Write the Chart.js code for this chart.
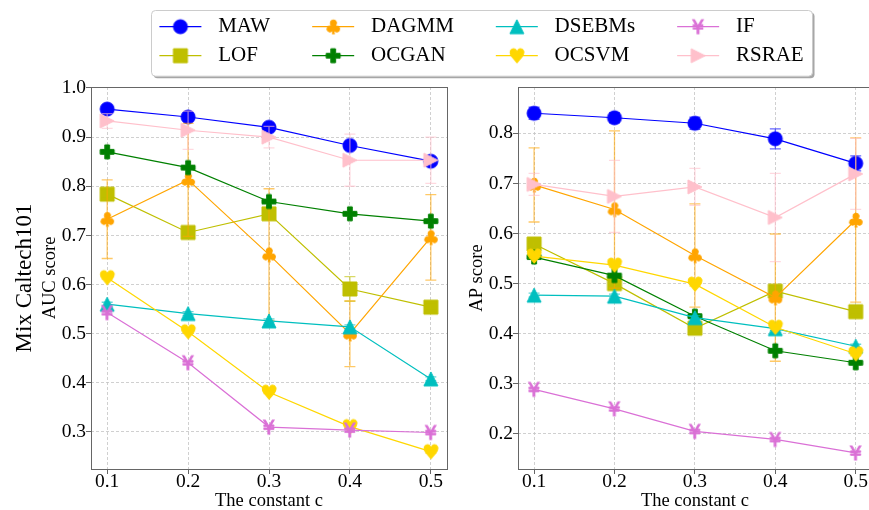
<!DOCTYPE html>
<html>
<head>
<meta charset="utf-8">
<title>Mix Caltech101 – AUC and AP vs. the constant c</title>
<script src="https://cdn.jsdelivr.net/npm/chart.js@4.4.1/dist/chart.umd.min.js"></script>
<style>
  html, body { margin: 0; padding: 0; background: #fff; overflow: hidden; }
  #wrap { position: relative; width: 869px; height: 510px; overflow: hidden; background: #fff; }
  #wrap canvas { position: absolute; left: 0; top: 0; }
</style>
</head>
<body>
<div id="wrap">
  <canvas id="aucChart" width="880" height="510"></canvas>
  <canvas id="apChart" width="880" height="510"></canvas>
</div>
<script>
// ---- data -------------------------------------------------------------
const C_VALUES = [0.1, 0.2, 0.3, 0.4, 0.5];
const C_TICKS = [0.1, 0.2, 0.3, 0.4, 0.5];
const AUC_TICKS = [0.3, 0.4, 0.5, 0.6, 0.7, 0.8, 0.9, 1.0];
const AP_TICKS = [0.2, 0.3, 0.4, 0.5, 0.6, 0.7, 0.8];
const METHODS = ['MAW', 'LOF', 'DAGMM', 'OCGAN', 'DSEBMs', 'OCSVM', 'IF', 'RSRAE'];

// AUC score (mean and error half-width)
const AUC_MAW    = [0.957, 0.941, 0.920, 0.883, 0.851];
const AUC_LOF    = [0.784, 0.706, 0.744, 0.591, 0.554];
const AUC_DAGMM  = [0.733, 0.813, 0.661, 0.500, 0.696];
const AUC_OCGAN  = [0.870, 0.838, 0.769, 0.744, 0.729];
const AUC_DSEBMS = [0.560, 0.541, 0.526, 0.514, 0.408];
const AUC_OCSVM  = [0.614, 0.504, 0.381, 0.311, 0.260];
const AUC_IF     = [0.543, 0.441, 0.310, 0.304, 0.299];
const AUC_RSRAE  = [0.933, 0.914, 0.900, 0.853, 0.853];

const AUC_MAW_ERR    = [0.003, 0.003, 0.003, 0.004, 0.004];
const AUC_LOF_ERR    = [0.008, 0.010, 0.010, 0.025, 0.006];
const AUC_DAGMM_ERR  = [0.080, 0.115, 0.134, 0.067, 0.087];
const AUC_OCGAN_ERR  = [0.004, 0.004, 0.004, 0.004, 0.004];
const AUC_DSEBMS_ERR = [0.004, 0.004, 0.004, 0.004, 0.004];
const AUC_OCSVM_ERR  = [0.003, 0.003, 0.003, 0.003, 0.003];
const AUC_IF_ERR     = [0.003, 0.003, 0.003, 0.003, 0.003];
const AUC_RSRAE_ERR  = [0.015, 0.039, 0.022, 0.053, 0.047];

// AP score (mean and error half-width)
const AP_MAW    = [0.840, 0.831, 0.820, 0.789, 0.740];
const AP_LOF    = [0.579, 0.500, 0.411, 0.485, 0.444];
const AP_DAGMM  = [0.697, 0.648, 0.556, 0.472, 0.627];
const AP_OCGAN  = [0.553, 0.516, 0.435, 0.366, 0.342];
const AP_DSEBMS = [0.477, 0.475, 0.432, 0.410, 0.375];
const AP_OCSVM  = [0.555, 0.537, 0.499, 0.413, 0.360];
const AP_IF     = [0.289, 0.250, 0.205, 0.189, 0.162];
const AP_RSRAE  = [0.698, 0.674, 0.693, 0.632, 0.719];

const AP_MAW_ERR    = [0.012, 0.010, 0.012, 0.020, 0.015];
const AP_LOF_ERR    = [0.005, 0.005, 0.005, 0.005, 0.005];
const AP_DAGMM_ERR  = [0.074, 0.157, 0.103, 0.127, 0.164];
const AP_OCGAN_ERR  = [0.004, 0.004, 0.004, 0.004, 0.004];
const AP_DSEBMS_ERR = [0.004, 0.004, 0.004, 0.004, 0.004];
const AP_OCSVM_ERR  = [0.004, 0.004, 0.004, 0.004, 0.004];
const AP_IF_ERR     = [0.003, 0.003, 0.003, 0.003, 0.003];
const AP_RSRAE_ERR  = [0.022, 0.072, 0.037, 0.088, 0.071];

const AUC_VALUES = [AUC_MAW, AUC_LOF, AUC_DAGMM, AUC_OCGAN, AUC_DSEBMS, AUC_OCSVM, AUC_IF, AUC_RSRAE];
const AUC_ERRORS = [AUC_MAW_ERR, AUC_LOF_ERR, AUC_DAGMM_ERR, AUC_OCGAN_ERR, AUC_DSEBMS_ERR, AUC_OCSVM_ERR, AUC_IF_ERR, AUC_RSRAE_ERR];
const AP_VALUES = [AP_MAW, AP_LOF, AP_DAGMM, AP_OCGAN, AP_DSEBMS, AP_OCSVM, AP_IF, AP_RSRAE];
const AP_ERRORS = [AP_MAW_ERR, AP_LOF_ERR, AP_DAGMM_ERR, AP_OCGAN_ERR, AP_DSEBMS_ERR, AP_OCSVM_ERR, AP_IF_ERR, AP_RSRAE_ERR];

// ---- styling ----------------------------------------------------------
const SERIF = "'Liberation Serif', 'Times New Roman', Times, serif";
const COLORS = {
  MAW: '#0000ff', LOF: '#bfbf00', DAGMM: '#ffa500', OCGAN: '#008000',
  DSEBMs: '#00bfbf', OCSVM: '#ffd700', IF: '#da70d6', RSRAE: '#ffc0cb'
};
const MARKER_KIND = {
  MAW: 'circle', LOF: 'square', DAGMM: '\u2663', OCGAN: 'plus',
  DSEBMs: 'triUp', OCSVM: '\u2665', IF: '\u00a5', RSRAE: 'triRight'
};
const MARKER_SIZE = 14;
const LINE_WIDTH = 1.2;
const GRID_COLOR = '#c4c4c4';
const SPINE_COLOR = '#666666';

function withAlpha(hex, a) {
  const n = parseInt(hex.slice(1), 16);
  return `rgba(${(n >> 16) & 255},${(n >> 8) & 255},${n & 255},${a})`;
}

// Marker sprites used as Chart.js point styles
function markerCanvas(kind, color) {
  const S = 20;
  const c = document.createElement('canvas');
  c.width = S; c.height = S;
  const g = c.getContext('2d');
  g.translate(S / 2, S / 2);
  g.fillStyle = color; g.strokeStyle = color; g.lineWidth = 1;
  const h = MARKER_SIZE / 2;
  const poly = pts => {
    g.beginPath();
    pts.forEach(([x, y], i) => (i ? g.lineTo(x, y) : g.moveTo(x, y)));
    g.closePath(); g.fill(); g.stroke();
  };
  switch (kind) {
    case 'circle':
      g.beginPath(); g.arc(0, 0, h, 0, Math.PI * 2); g.fill(); g.stroke(); break;
    case 'square':
      poly([[-h, -h], [h, -h], [h, h], [-h, h]]); break;
    case 'triUp':
      poly([[0, -h], [-h, h], [h, h]]); break;
    case 'triRight':
      poly([[h, 0], [-h, -h], [-h, h]]); break;
    case 'plus': {
      const a = MARKER_SIZE / 6;
      poly([[-a, -h], [a, -h], [a, -a], [h, -a], [h, a], [a, a], [a, h], [-a, h], [-a, a], [-h, a], [-h, -a], [-a, -a]]);
      break;
    }
    default: {
      g.font = '100px "DejaVu Sans"';
      g.textAlign = 'left'; g.textBaseline = 'alphabetic';
      const m = g.measureText(kind);
      const w = m.actualBoundingBoxLeft + m.actualBoundingBoxRight;
      const hh = m.actualBoundingBoxAscent + m.actualBoundingBoxDescent;
      const k = MARKER_SIZE / Math.max(w, hh);
      g.scale(k, k);
      const x0 = (m.actualBoundingBoxLeft - m.actualBoundingBoxRight) / 2;
      const y0 = (m.actualBoundingBoxAscent - m.actualBoundingBoxDescent) / 2;
      g.lineWidth = 1 / k;
      g.fillText(kind, x0, y0);
      g.strokeText(kind, x0, y0);
    }
  }
  return c;
}

const MARKERS = {};
METHODS.forEach(m => { MARKERS[m] = markerCanvas(MARKER_KIND[m], COLORS[m]); });

function buildDatasets(values, errors) {
  return METHODS.map((name, i) => ({
    label: name,
    data: C_VALUES.map((c, j) => ({ x: c, y: values[i][j] })),
    errors: errors[i],
    borderColor: COLORS[name],
    backgroundColor: COLORS[name],
    borderWidth: LINE_WIDTH,
    pointStyle: MARKERS[name],
    pointRadius: 7,
    pointHoverRadius: 7,
    tension: 0,
    fill: false,
    order: METHODS.length - i
  }));
}

// ---- plugins ----------------------------------------------------------
const errorBars = {
  id: 'errorBars',
  afterDatasetDraw(chart, args) {
    const ds = chart.data.datasets[args.index];
    if (!ds.errors) return;
    const ctx = chart.ctx, xs = chart.scales.x, ys = chart.scales.y;
    ctx.save();
    ctx.strokeStyle = withAlpha(ds.borderColor, 0.6);
    ctx.lineWidth = 1.3;
    ds.data.forEach((p, j) => {
      const e = ds.errors[j];
      if (!e) return;
      const px = xs.getPixelForValue(p.x);
      const top = ys.getPixelForValue(p.y + e);
      const bot = ys.getPixelForValue(p.y - e);
      ctx.beginPath();
      ctx.moveTo(px, top); ctx.lineTo(px, bot);
      ctx.moveTo(px - 5.5, top); ctx.lineTo(px + 5.5, top);
      ctx.moveTo(px - 5.5, bot); ctx.lineTo(px + 5.5, bot);
      ctx.stroke();
    });
    ctx.restore();
  }
};

const frame = {
  id: 'frame',
  afterDatasetsDraw(chart) {
    const { ctx, chartArea: a } = chart;
    ctx.save();
    ctx.strokeStyle = SPINE_COLOR;
    ctx.lineWidth = 1;
    ctx.strokeRect(Math.round(a.left) + 0.5, Math.round(a.top) + 0.5,
      Math.round(a.right - a.left), Math.round(a.bottom - a.top));
    ctx.restore();
  }
};

const rowLabel = {
  id: 'rowLabel',
  afterDraw(chart) {
    const ctx = chart.ctx;
    ctx.save();
    ctx.translate(25, 278);
    ctx.rotate(-Math.PI / 2);
    ctx.font = `23px ${SERIF}`;
    ctx.fillStyle = '#000';
    ctx.textAlign = 'center';
    ctx.textBaseline = 'middle';
    ctx.fillText('Mix Caltech101', 0, 0);
    ctx.restore();
  }
};

// Four-column legend, filled column by column
const legendBox = {
  id: 'legendBox',
  afterDraw(chart) {
    const ctx = chart.ctx;
    const fs = 21;
    const legendFont = `${fs}px ${SERIF}`;
    const pad = 0.4 * fs, handle = 2 * fs, textPad = 0.8 * fs, colGap = 2 * fs;
    const rows = [26.7, 55.7];
    const left = 151, top = 10, bottom = 75.7;
    ctx.save();
    ctx.font = legendFont;
    const ds = chart.data.datasets;
    const ncol = 4;
    const cols = [];
    let x = left + pad;
    for (let c = 0; c < ncol; c++) {
      const items = [ds[2 * c], ds[2 * c + 1]];
      const tw = Math.max(...items.map(d => ctx.measureText(d.label).width));
      cols.push({ x, items });
      x += handle + textPad + tw + (c < ncol - 1 ? colGap : 0);
    }
    const right = x + pad;
    const rr = (x0, y0, w, h, r) => {
      ctx.beginPath();
      ctx.moveTo(x0 + r, y0);
      ctx.arcTo(x0 + w, y0, x0 + w, y0 + h, r);
      ctx.arcTo(x0 + w, y0 + h, x0, y0 + h, r);
      ctx.arcTo(x0, y0 + h, x0, y0, r);
      ctx.arcTo(x0, y0, x0 + w, y0, r);
      ctx.closePath();
    };
    // shadow then box
    rr(left + 2.5, top + 2.5, right - left, bottom - top, 4);
    ctx.fillStyle = 'rgba(0,0,0,0.35)';
    ctx.fill();
    rr(left + 0.5, top + 0.5, right - left, bottom - top, 4);
    ctx.fillStyle = '#fff';
    ctx.fill();
    ctx.strokeStyle = '#cccccc';
    ctx.lineWidth = 1;
    ctx.stroke();
    cols.forEach(col => {
      col.items.forEach((d, r) => {
        const y = rows[r];
        ctx.strokeStyle = d.borderColor;
        ctx.lineWidth = LINE_WIDTH;
        ctx.beginPath();
        ctx.moveTo(col.x, y); ctx.lineTo(col.x + handle, y);
        ctx.stroke();
        const m = d.pointStyle;
        ctx.drawImage(m, col.x + handle / 2 - m.width / 2, y - m.height / 2);
        ctx.font = legendFont;
        ctx.fillStyle = '#000';
        ctx.textAlign = 'left';
        ctx.textBaseline = 'middle';
        ctx.fillText(d.label, col.x + handle + textPad, y);
      });
    });
    ctx.restore();
  }
};

// ---- charts -----------------------------------------------------------
function buildChart(id, cfg) {
  const tickFont = { family: SERIF, size: 19.5, lineHeight: 1 };
  const titleFont = { family: SERIF, size: 18.5, lineHeight: 1 };
  const grid = {
    color: GRID_COLOR, lineWidth: 0.8, borderDash: [3, 2],
    drawTicks: true, tickLength: 5, tickColor: SPINE_COLOR, tickWidth: 1, tickBorderDash: []
  };
  return new Chart(document.getElementById(id), {
    type: 'line',
    data: { datasets: buildDatasets(cfg.values, cfg.errors) },
    options: {
      responsive: false,
      animation: false,
      devicePixelRatio: 1,
      layout: { padding: { left: cfg.padLeft, right: cfg.padRight, top: 87, bottom: 0 } },
      plugins: { legend: { display: false }, tooltip: { enabled: false } },
      scales: {
        x: {
          type: 'linear', min: 0.08, max: 0.52,
          afterBuildTicks: s => { s.ticks = C_TICKS.map(v => ({ value: v })); },
          afterFit: s => { s.height = 41; },
          ticks: { callback: v => Number(v).toFixed(1), font: tickFont, color: '#000', padding: -2, maxRotation: 0, autoSkip: false },
          grid: grid,
          border: { display: false, dash: [3, 2] },
          title: { display: true, text: 'The constant c', font: titleFont, color: '#000', padding: { top: 0, bottom: 0 } }
        },
        y: {
          type: 'linear', min: cfg.yMin, max: cfg.yMax,
          afterBuildTicks: s => { s.ticks = cfg.ticks.map(v => ({ value: v })); },
          afterFit: s => { s.width = cfg.yWidth; },
          ticks: { callback: v => Number(v).toFixed(1), font: tickFont, color: '#000', padding: 0, autoSkip: false },
          grid: grid,
          border: { display: false, dash: [3, 2] },
          title: { display: true, text: cfg.yTitle, font: titleFont, color: '#000', padding: { top: cfg.yTitlePad, bottom: 0 } }
        }
      }
    },
    plugins: [errorBars, frame].concat(cfg.extra || [])
  });
}

buildChart('aucChart', {
  values: AUC_VALUES, errors: AUC_ERRORS,
  yMin: 0.2247, yMax: 1.002, ticks: AUC_TICKS,
  yTitle: 'AUC score', yTitlePad: 41, yWidth: 91,
  padLeft: 0, padRight: 433,
  extra: [rowLabel, legendBox]
});

buildChart('apChart', {
  values: AP_VALUES, errors: AP_ERRORS,
  yMin: 0.130, yMax: 0.8924, ticks: AP_TICKS,
  yTitle: 'AP score', yTitlePad: 7.5, yWidth: 58,
  padLeft: 460, padRight: 7
});
</script>
</body>
</html>
